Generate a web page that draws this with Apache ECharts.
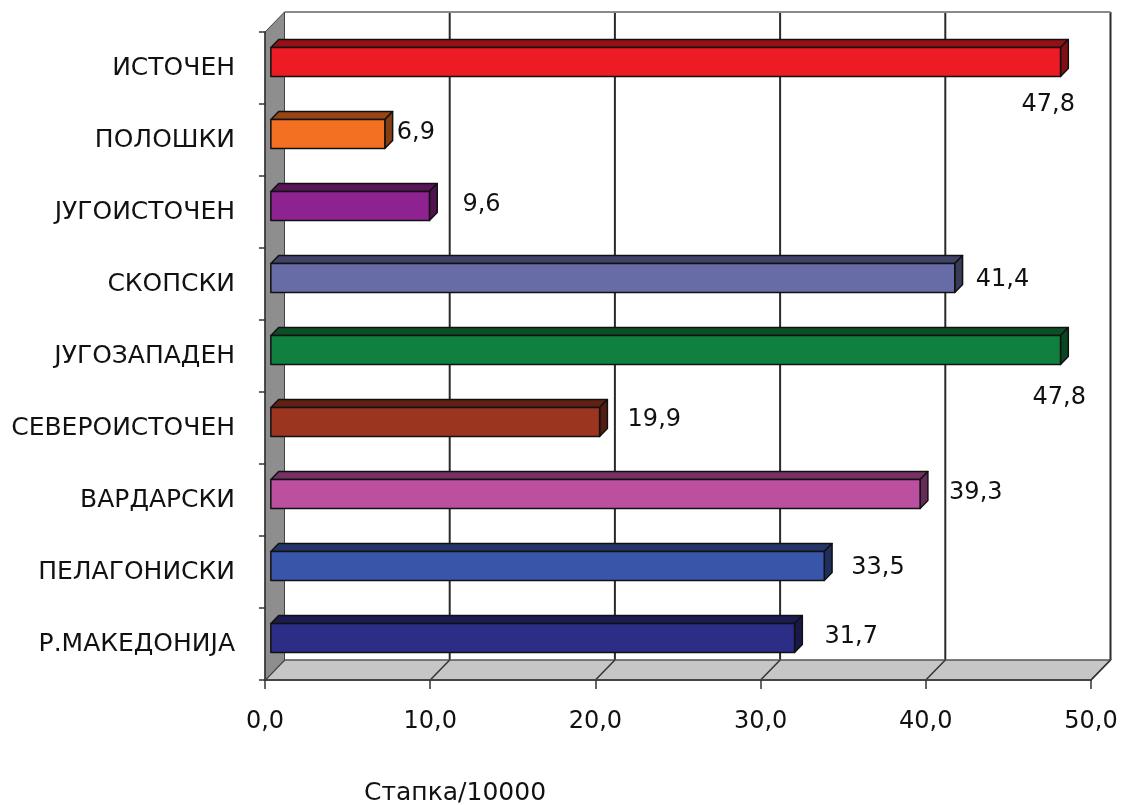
<!DOCTYPE html>
<html>
<head>
<meta charset="utf-8">
<script src="https://cdn.jsdelivr.net/npm/echarts@6/dist/echarts.min.js"></script>
<style>
html,body{margin:0;padding:0;background:#fff;}
#chart{width:1126px;height:805px;}
</style>
</head>
<body>
<div id="chart"></div>
<script>
// ---- data ----
const categories = ['ИСТОЧЕН','ПОЛОШКИ','ЈУГОИСТОЧЕН','СКОПСКИ','ЈУГОЗАПАДЕН','СЕВЕРОИСТОЧЕН','ВАРДАРСКИ','ПЕЛАГОНИСКИ','Р.МАКЕДОНИЈА'];
const values = [47.8, 6.9, 9.6, 41.4, 47.8, 19.9, 39.3, 33.5, 31.7];
const xTicks = [0, 10, 20, 30, 40, 50];
const axisTitle = 'Стапка/10000';

// ---- styling ----
const barColors = ['#ED1C24','#F36F21','#8E2291','#676CA6','#10803E','#9B3520','#BC4FA0','#3855A9','#2B2D86'];
const labelOffsets = [[-39,37],[12,-7],[33,-7],[21,-4],[-28,42],[28,-8],[29,-7],[27,-4],[30,-7]];
const DX = 19.5, DY = -20;
const FONT = 'DejaVu Sans';

function shade(hex, k){
  const n = parseInt(hex.slice(1),16);
  const r = Math.round(((n>>16)&255)*k), g = Math.round(((n>>8)&255)*k), b = Math.round((n&255)*k);
  return 'rgb('+r+','+g+','+b+')';
}
const fmt = v => v.toFixed(1).replace('.', ',');

const chart = echarts.init(document.getElementById('chart'));

const decorItem = function(params, api){
  const cs = params.coordSys;
  const L = cs.x, T = cs.y, R = cs.x + cs.width, B = cs.y + cs.height;
  const ch = [];
  ch.push({type:'rect', shape:{x:L+DX, y:T+DY, width:R-L, height:B-T}, style:{fill:'#fff'}});
  xTicks.forEach(v => {
    if (v === 0) return;
    const x = api.coord([v, 0])[0];
    ch.push({type:'line', shape:{x1:x+DX, y1:T+DY, x2:x+DX, y2:B+DY}, style:{stroke:'#2a2a2a', lineWidth:2}});
  });
  ch.push({type:'line', shape:{x1:L+DX, y1:T+DY, x2:R+DX, y2:T+DY}, style:{stroke:'#8a8a8a', lineWidth:2}});
  ch.push({type:'polygon', shape:{points:[[L,B],[R,B],[R+DX,B+DY],[L+DX,B+DY]]}, style:{fill:'#c6c6c6', stroke:'#555', lineWidth:1.5}});
  xTicks.forEach(v => {
    const x = api.coord([v, 0])[0];
    ch.push({type:'line', shape:{x1:x, y1:B, x2:x+DX, y2:B+DY}, style:{stroke:'#333', lineWidth:1.5}});
  });
  ch.push({type:'polygon', shape:{points:[[L,T],[L+DX,T+DY],[L+DX,B+DY],[L,B]]}, style:{fill:'#8e8e8e', stroke:'#444', lineWidth:1}});
  return {type:'group', children: ch};
};

const barItem = function(params, api){
  const v = api.value(0), ci = api.value(1);
  const p0 = api.coord([0, ci]), p1 = api.coord([v, ci]);
  const band = api.size([0, 1])[1];
  const h = band * 0.40;
  const fx = DX*0.3, fy = DY*0.3, bx = DX*0.4, by = DY*0.4;
  const x0 = p0[0] + fx, x1 = p1[0] + fx;
  const yt = p0[1] + fy - h/2, yb = p0[1] + fy + h/2;
  const col = barColors[params.dataIndex];
  const off = labelOffsets[params.dataIndex];
  const st = {stroke:'#111', lineWidth:1.5, lineJoin:'round'};
  return {type:'group', children:[
    {type:'polygon', shape:{points:[[x0,yt],[x1,yt],[x1+bx,yt+by],[x0+bx,yt+by]]}, style:Object.assign({fill:shade(col,0.62)}, st)},
    {type:'polygon', shape:{points:[[x1,yt],[x1+bx,yt+by],[x1+bx,yb+by],[x1,yb]]}, style:Object.assign({fill:shade(col,0.55)}, st)},
    {type:'rect', shape:{x:x0, y:yt, width:x1-x0, height:yb-yt}, style:Object.assign({fill:col}, st)},
    {type:'text', x:x1+off[0], y:p0[1]+off[1], style:{text:fmt(v), fill:'#111', font:'24px "'+FONT+'"', textAlign:'left', textVerticalAlign:'middle'}}
  ]};
};

chart.setOption({
  animation:false,
  backgroundColor:'#fff',
  title:{text:axisTitle, left:359, top:776, textStyle:{fontFamily:FONT, fontSize:25, fontWeight:'normal', color:'#111'}},
  grid:{left:265, right:35, top:32, bottom:125},
  xAxis:{type:'value', min:0, max:50, interval:10, z:5,
    axisLine:{show:true, lineStyle:{color:'#444', width:2}},
    axisTick:{show:true, length:9, lineStyle:{color:'#333', width:1.5}},
    splitLine:{show:false},
    axisLabel:{margin:30, fontFamily:FONT, fontSize:24, color:'#111', formatter:fmt}},
  yAxis:{type:'category', data:categories, inverse:true, z:5,
    axisLine:{show:true, lineStyle:{color:'#333', width:1.5}},
    axisTick:{show:true, length:6, lineStyle:{color:'#333', width:1.5}},
    axisLabel:{margin:30, fontFamily:FONT, fontSize:25, color:'#111'}},
  series:[
    {type:'custom', z:1, renderItem:decorItem, data:[[0,0]], encode:{x:0,y:1}, silent:true},
    {type:'custom', z:3, renderItem:barItem, data:values.map((v,i)=>[v,i]), encode:{x:0,y:1}}
  ]
});
</script>
</body>
</html>
